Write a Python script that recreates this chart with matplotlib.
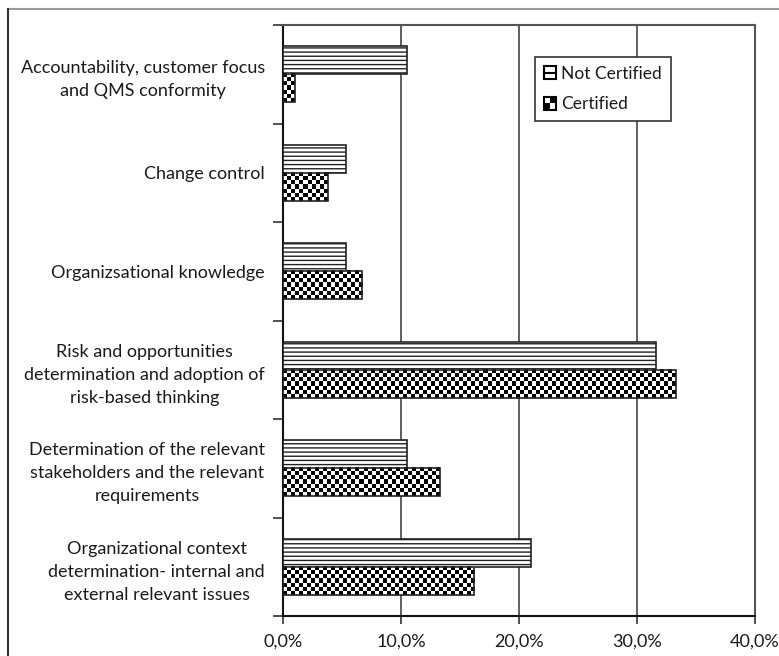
import numpy as np
import matplotlib
matplotlib.use('Agg')
import matplotlib.pyplot as plt
from matplotlib.patches import Rectangle
from matplotlib.lines import Line2D
from matplotlib.legend_handler import HandlerBase
from matplotlib.ticker import FuncFormatter, FixedLocator

plt.rcParams['font.family'] = ['Lato', 'DejaVu Sans']
plt.rcParams['hatch.linewidth'] = 1.0

categories = [
    "Accountability, customer focus\nand QMS conformity",
    "Change control",
    "Organizsational knowledge",
    "Risk and opportunities\ndetermination and adoption of\nrisk-based thinking",
    "Determination of the relevant\nstakeholders and the relevant\nrequirements",
    "Organizational context\ndetermination- internal and\nexternal relevant issues",
]
not_certified = [10.5, 5.3, 5.3, 31.6, 10.5, 21.0]
certified = [1.0, 3.8, 6.7, 33.3, 13.3, 16.2]
x_ticks = [0, 10, 20, 30, 40]

fig = plt.figure(figsize=(7.79, 6.56), dpi=100)
ax = fig.add_axes([283 / 779, 40 / 656, 472 / 779, 591 / 656])

y = np.arange(len(categories))
h = 0.285
txt = '#1a1a1a'
fs = 13

# Not certified: horizontal stripes
ax.barh(y - h / 2, not_certified, height=h, color='white', edgecolor='#222222',
        hatch='----', linewidth=1.2, zorder=3)

# Certified: checkerboard drawn as image inside each bar
sq_x = 4 * 40 / 472       # ~4 px squares
n_y = 7
for yi, v in zip(y, certified):
    n_x = max(1, int(round(v / sq_x)))
    board = (np.add.outer(np.arange(n_y), np.arange(n_x)) % 2).astype(float)
    ax.imshow(board, cmap='gray', interpolation='nearest', aspect='auto',
              extent=[0, v, yi + h, yi], zorder=3)
ax.barh(y + h / 2, certified, height=h, color='none', edgecolor='#222222',
        linewidth=1.2, zorder=4)

ax.set_xlim(0, 40)
ax.set_ylim(len(categories) - 0.5, -0.5)

ax.xaxis.set_major_locator(FixedLocator(x_ticks))
ax.xaxis.set_major_formatter(FuncFormatter(lambda v, p: f"{v:.1f}%".replace('.', ',')))
ax.tick_params(axis='x', direction='out', length=6, width=1.2, color='#333333',
               labelsize=fs, labelcolor=txt, pad=7)

ax.set_yticks(y)
ax.set_yticklabels(categories, multialignment='center', linespacing=1.55)
ax.set_yticks(np.arange(len(categories) + 1) - 0.5, minor=True)
ax.tick_params(axis='y', which='major', length=0, pad=13, labelsize=fs, labelcolor=txt)
ax.tick_params(axis='y', which='minor', direction='out', length=7, width=1.2, color='#333333')

ax.grid(axis='x', color='#444444', linewidth=1.2, zorder=0)
ax.set_axisbelow(True)
for s in ['left', 'bottom']:
    ax.spines[s].set_color('#111111')
    ax.spines[s].set_linewidth(1.5)
for s in ['top', 'right']:
    ax.spines[s].set_color('#555555')
    ax.spines[s].set_linewidth(1.5)


class StripeHandler(HandlerBase):
    def create_artists(self, legend, orig_handle, xdescent, ydescent,
                       width, height, fontsize, trans):
        s = height
        x0 = -xdescent + (width - s) / 2
        y0 = -ydescent
        box = Rectangle((x0, y0), s, s, fc='white', ec='black', lw=1.5, transform=trans)
        line = Line2D([x0, x0 + s], [y0 + s / 2, y0 + s / 2], color='black', lw=1.5,
                      transform=trans)
        return [box, line]


class CheckerHandler(HandlerBase):
    def create_artists(self, legend, orig_handle, xdescent, ydescent,
                       width, height, fontsize, trans):
        s = height
        x0 = -xdescent + (width - s) / 2
        y0 = -ydescent
        arts = [Rectangle((x0, y0), s, s, fc='white', ec='none', transform=trans)]
        for i in range(2):
            for j in range(2):
                if (i + j) % 2 == 0:
                    arts.append(Rectangle((x0 + i * s / 2, y0 + j * s / 2), s / 2, s / 2,
                                          fc='black', ec='none', transform=trans))
        arts.append(Rectangle((x0, y0), s, s, fc='none', ec='black', lw=1.5, transform=trans))
        return arts


h_nc = Rectangle((0, 0), 1, 1)
h_c = Rectangle((0, 0), 1, 1)
leg = ax.legend([h_nc, h_c], ['Not Certified', 'Certified'],
                handler_map={h_nc: StripeHandler(), h_c: CheckerHandler()},
                loc='upper left', bbox_to_anchor=((535 - 283) / 472, (616 - 57) / 591),
                fontsize=12.5, frameon=True, fancybox=False, edgecolor='#333333',
                framealpha=1, handlelength=0.72, handleheight=0.72, handletextpad=0.3,
                labelspacing=0.85, borderpad=0.5, borderaxespad=0)
leg.get_frame().set_linewidth(1.2)
for t in leg.get_texts():
    t.set_color(txt)

# outer frame lines (figure border)
fig.add_artist(Line2D([8 / 779, 1.0], [1 - 9 / 656, 1 - 9 / 656], color='#999999', lw=1.5,
                      transform=fig.transFigure))
fig.add_artist(Line2D([8 / 779, 8 / 779], [0, 1 - 9 / 656], color='#333333', lw=1.5,
                      transform=fig.transFigure))

fig.savefig('out.png', dpi=100)
plt.close(fig)
